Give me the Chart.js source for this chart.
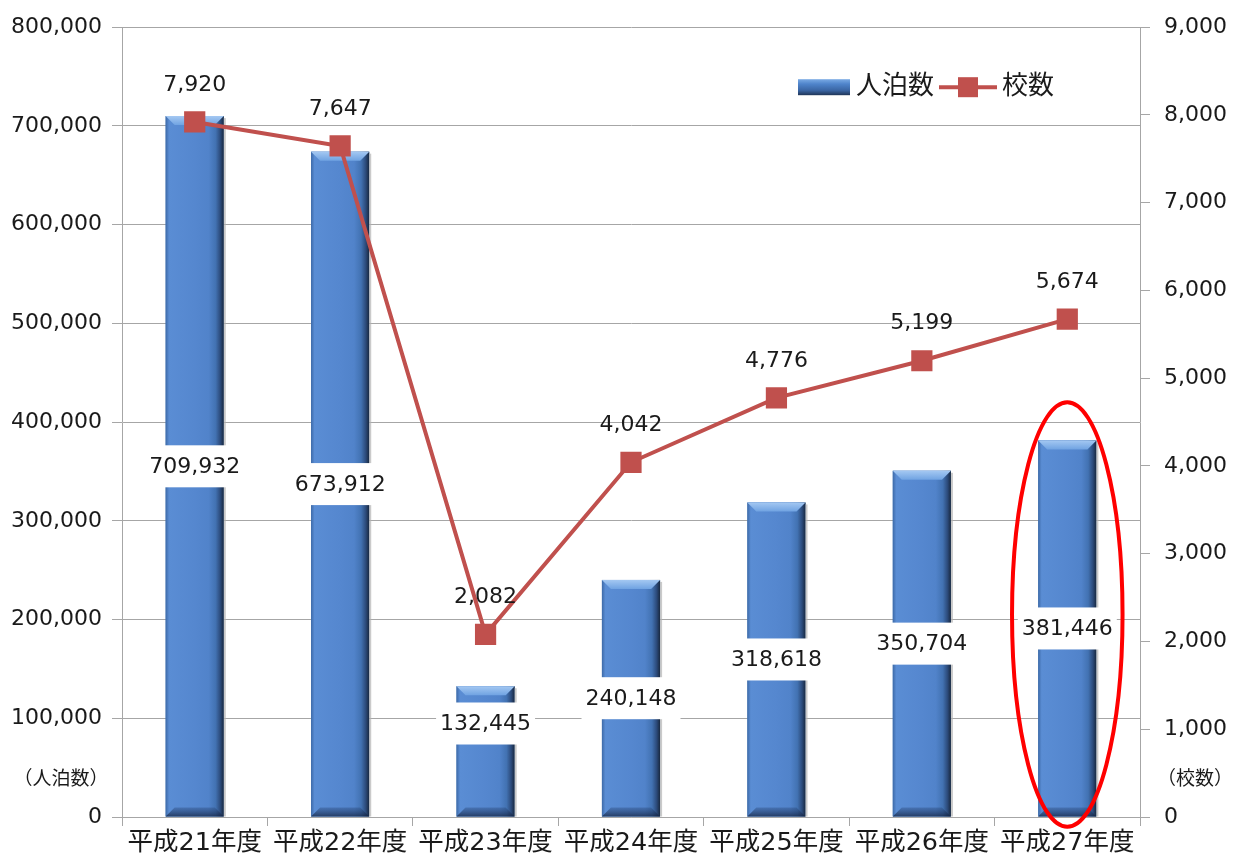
<!DOCTYPE html>
<html><head><meta charset="utf-8">
<script src="https://cdn.jsdelivr.net/npm/chart.js@4.4.1/dist/chart.umd.min.js"></script>
<style>html,body{margin:0;padding:0;background:#fff}#wrap{width:1233px;height:864px}</style>
</head><body><div id="wrap"><canvas id="c" width="1233" height="864"></canvas></div>
<script>
const categories = ['平成21年度','平成22年度','平成23年度','平成24年度','平成25年度','平成26年度','平成27年度'];
const guestNights = [709932, 673912, 132445, 240148, 318618, 350704, 381446];
const schools = [7920, 7647, 2082, 4042, 4776, 5199, 5674];
const seriesNames = ['人泊数', '校数'];
const unitLeft = '（人泊数）';
const unitRight = '（校数）';

const FONT = '"DejaVu Sans", "Noto Sans CJK JP", sans-serif';
const TXT = '#1a1a1a';
const GRID = '#a6a6a6';
const BAR_PCT = 0.4;
const fmt = v => Number(v).toLocaleString('en-US');

function barGradient(ctx, left, right) {
  const g = ctx.createLinearGradient(left, 0, right, 0);
  g.addColorStop(0, '#3d6aa8');
  g.addColorStop(0.06, '#5a8dd4');
  g.addColorStop(0.5, '#5587cf');
  g.addColorStop(0.74, '#5183ca');
  g.addColorStop(0.86, '#4272b2');
  g.addColorStop(0.94, '#2c4b7b');
  g.addColorStop(1, '#18283f');
  return g;
}

const bevelPlugin = {
  id: 'bevel',
  afterDatasetDraw(chart, args) {
    if (args.index !== 0) return;
    const ctx = chart.ctx;
    const b = 9;
    args.meta.data.forEach(el => {
      const {x, y, base, width} = el.getProps(['x','y','base','width'], true);
      const l = x - width/2, r = x + width/2, t = y;
      ctx.save();
      ctx.fillStyle = barGradient(ctx, l, r);
      ctx.fillRect(l, t, width, base - t);
      // top bevel
      let g = ctx.createLinearGradient(0, t, 0, t + b);
      g.addColorStop(0, '#a4c8f2'); g.addColorStop(1, '#70a3e2');
      ctx.fillStyle = g;
      ctx.beginPath(); ctx.moveTo(l, t); ctx.lineTo(r, t); ctx.lineTo(r - b, t + b); ctx.lineTo(l + b, t + b); ctx.closePath(); ctx.fill();
      // bottom bevel
      g = ctx.createLinearGradient(0, base - b, 0, base);
      g.addColorStop(0, 'rgba(40,70,120,0.35)'); g.addColorStop(1, 'rgba(20,35,65,0.75)');
      ctx.fillStyle = g;
      ctx.beginPath(); ctx.moveTo(l, base); ctx.lineTo(l + b, base - b); ctx.lineTo(r - b, base - b); ctx.lineTo(r, base); ctx.closePath(); ctx.fill();
      // right edge light outline
      ctx.fillStyle = 'rgba(180,180,180,0.7)';
      ctx.fillRect(r, t + 2, 2, base - t - 2);
      ctx.restore();
    });
  }
};

const labelsPlugin = {
  id: 'valueLabels',
  afterDatasetsDraw(chart) {
    const ctx = chart.ctx;
    ctx.save();
    ctx.font = '22px ' + FONT;
    ctx.textAlign = 'center';
    ctx.textBaseline = 'middle';
    const barMeta = chart.getDatasetMeta(0);
    barMeta.data.forEach((el, i) => {
      const {x, y, base} = el.getProps(['x','y','base'], true);
      const cy = Math.min((y + base) / 2, base - 93);
      const txt = fmt(guestNights[i]);
      const w = ctx.measureText(txt).width + 8;
      ctx.fillStyle = '#fff';
      ctx.fillRect(x - w/2, cy - 21, w, 42);
      ctx.fillStyle = TXT;
      ctx.fillText(txt, x, cy + 1);
    });
    const lineMeta = chart.getDatasetMeta(1);
    lineMeta.data.forEach((el, i) => {
      const {x, y} = el.getProps(['x','y'], true);
      ctx.fillStyle = TXT;
      ctx.fillText(fmt(schools[i]), x, y - 37);
    });
    ctx.restore();
  },
  afterDraw(chart) {
    const ctx = chart.ctx;
    const a = chart.chartArea;
    const xs = chart.scales.x, ys = chart.scales.y;
    ctx.save();
    // unit labels
    ctx.font = '19px ' + FONT;
    ctx.fillStyle = TXT;
    ctx.textAlign = 'center';
    ctx.textBaseline = 'middle';
    ctx.fillText(unitLeft, a.left / 2, a.bottom - 37);
    ctx.fillText(unitRight, a.right + 55, a.bottom - 37);
    // legend
    const ly = a.top + 60;
    let lx = a.right - 342;
    const sg = ctx.createLinearGradient(0, ly - 8, 0, ly + 8);
    sg.addColorStop(0, '#7aaae4'); sg.addColorStop(0.3, '#4f84cb'); sg.addColorStop(0.7, '#3a65a3'); sg.addColorStop(1, '#1f3557');
    ctx.fillStyle = sg;
    ctx.fillRect(lx, ly - 8, 52, 16);
    lx += 58;
    ctx.font = '26px ' + FONT;
    ctx.textAlign = 'left';
    ctx.fillStyle = TXT;
    ctx.fillText(seriesNames[0], lx, ly);
    lx += ctx.measureText(seriesNames[0]).width + 5;
    ctx.strokeStyle = '#c0504d';
    ctx.lineWidth = 4;
    ctx.beginPath(); ctx.moveTo(lx, ly); ctx.lineTo(lx + 58, ly); ctx.stroke();
    ctx.fillStyle = '#c0504d';
    ctx.fillRect(lx + 29 - 10, ly - 10, 20, 20);
    lx += 63;
    ctx.fillStyle = TXT;
    ctx.fillText(seriesNames[1], lx, ly);
    // highlight ellipse around the last category
    const last = categories.length - 1;
    const cx = xs.getPixelForValue(last);
    const top = ys.getPixelForValue(420000);
    const bot = ys.getPixelForValue(-10000);
    ctx.strokeStyle = '#ff0000';
    ctx.lineWidth = 4;
    ctx.beginPath();
    ctx.ellipse(cx, (top + bot) / 2, xs.width / categories.length * 0.38, (bot - top) / 2, 0, 0, Math.PI * 2);
    ctx.stroke();
    ctx.restore();
  }
};

new Chart(document.getElementById('c'), {
  data: {
    labels: categories,
    datasets: [
      {
        type: 'bar', label: seriesNames[0], data: guestNights, yAxisID: 'y', order: 1,
        barPercentage: BAR_PCT, categoryPercentage: 1,
        backgroundColor: '#4f81bd',
        borderWidth: 0
      },
      {
        type: 'line', label: seriesNames[1], data: schools, yAxisID: 'y1', order: 0,
        borderColor: '#c0504d', borderWidth: 4, tension: 0,
        pointStyle: 'rect', pointRadius: 15, pointHoverRadius: 15,
        pointBackgroundColor: '#c0504d', pointBorderColor: '#c0504d', pointBorderWidth: 0
      }
    ]
  },
  options: {
    responsive: false,
    animation: false,
    events: [],
    layout: { padding: { top: 22, left: 0, right: 0, bottom: 0 } },
    plugins: { legend: { display: false }, tooltip: { enabled: false } },
    scales: {
      x: {
        offset: true,
        grid: { display: true, drawOnChartArea: false, drawTicks: true, tickLength: 9, offset: true, color: GRID },
        border: { display: true, color: GRID },
        ticks: { font: { family: FONT, size: 25.5 }, color: TXT, padding: 2, maxRotation: 0, autoSkip: false },
        afterFit: (s) => { s.height = 47; }
      },
      y: {
        position: 'left', min: 0, max: 800000,
        ticks: { stepSize: 100000, callback: v => fmt(v), font: { family: FONT, size: 22 }, color: TXT, padding: 10 },
        grid: { color: GRID, tickLength: 10 },
        border: { display: true, color: GRID },
        afterFit: (s) => { s.width = 122; }
      },
      y1: {
        position: 'right', min: 0, max: 9000,
        ticks: { stepSize: 1000, callback: v => fmt(v), font: { family: FONT, size: 22 }, color: TXT, padding: 14 },
        grid: { drawOnChartArea: false, color: GRID, tickLength: 10 },
        border: { display: true, color: GRID },
        afterFit: (s) => { s.width = 93; }
      }
    }
  },
  plugins: [bevelPlugin, labelsPlugin]
});
</script></body></html>
